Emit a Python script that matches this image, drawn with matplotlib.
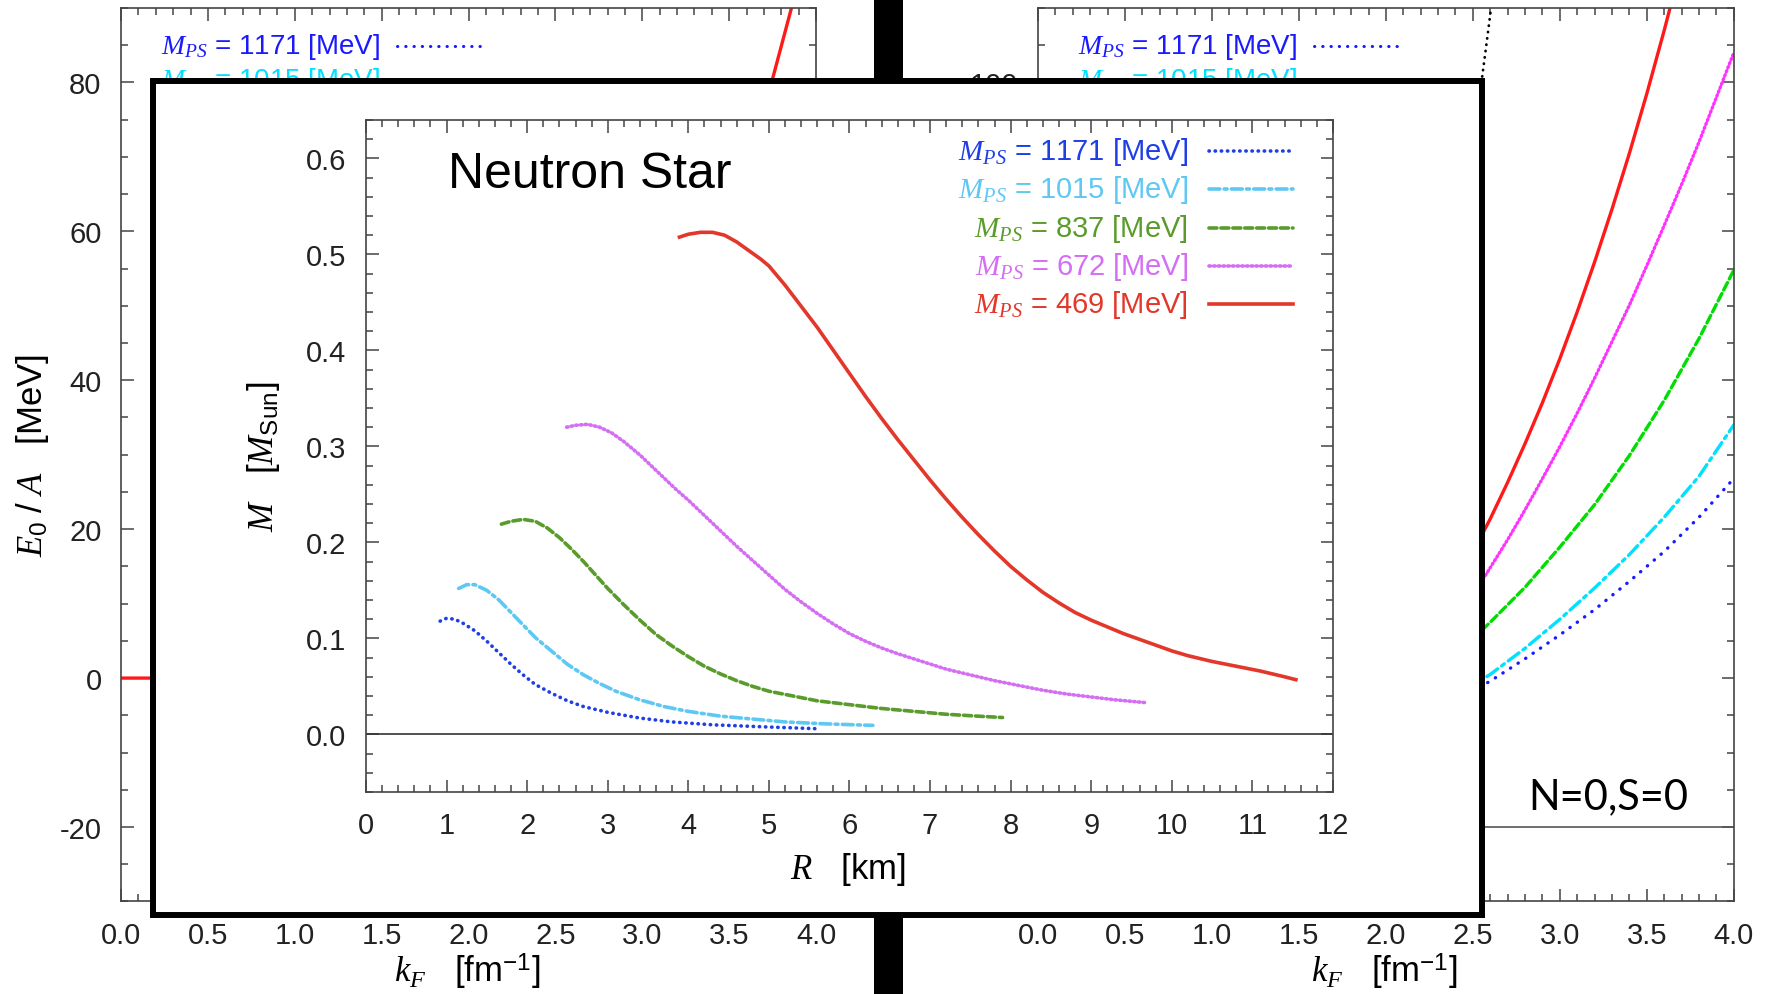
import matplotlib
matplotlib.use('Agg')
import matplotlib.pyplot as plt
from matplotlib.patches import Rectangle
from matplotlib.ticker import MultipleLocator, FormatStrFormatter, FuncFormatter

plt.rcParams['font.family'] = ['Liberation Sans', 'DejaVu Sans']
plt.rcParams['mathtext.fontset'] = 'custom'
plt.rcParams['mathtext.rm'] = 'Liberation Sans'
plt.rcParams['mathtext.it'] = 'Liberation Serif:italic'
plt.rcParams['mathtext.bf'] = 'Liberation Sans:bold'
plt.rcParams['axes.unicode_minus'] = False

# ---- values ----
ps_masses = ['1171', '1015', '837', '672', '469']

# inset: neutron star mass-radius curves (R [km], M [M_sun])
r_1171 = [0.92, 1.0, 1.1, 1.2, 1.35, 1.5, 1.65, 1.8, 1.95, 2.1, 2.3, 2.5, 2.7, 3.0, 3.4, 3.8, 4.3, 4.9, 5.57]
m_1171 = [0.118, 0.121, 0.120, 0.116, 0.108, 0.097, 0.085, 0.073, 0.062, 0.052, 0.043, 0.035, 0.029,
          0.023, 0.017, 0.013, 0.010, 0.008, 0.006]
r_1015 = [1.15, 1.25, 1.35, 1.5, 1.65, 1.8, 1.95, 2.1, 2.3, 2.5, 2.7, 2.9, 3.1, 3.4, 3.7, 4.0, 4.4, 4.8,
          5.2, 5.7, 6.29]
m_1015 = [0.152, 0.156, 0.156, 0.150, 0.140, 0.127, 0.114, 0.101, 0.087, 0.073, 0.062, 0.053, 0.045,
          0.036, 0.029, 0.024, 0.019, 0.016, 0.013, 0.011, 0.0094]
r_837 = [1.68, 1.8, 1.95, 2.1, 2.25, 2.4, 2.55, 2.7, 2.85, 3.0, 3.2, 3.4, 3.6, 3.8, 4.0, 4.2, 4.4, 4.6,
         4.8, 5.0, 5.3, 5.6, 6.0, 6.4, 6.8, 7.2, 7.6, 7.9]
m_837 = [0.219, 0.222, 0.224, 0.222, 0.215, 0.205, 0.193, 0.180, 0.166, 0.152, 0.135, 0.119, 0.104,
         0.092, 0.081, 0.071, 0.063, 0.056, 0.050, 0.045, 0.040, 0.035, 0.031, 0.027, 0.024, 0.021,
         0.019, 0.0176]
r_672 = [2.49, 2.6, 2.75, 2.9, 3.05, 3.2, 3.4, 3.6, 3.85, 4.0, 4.2, 4.4, 4.6, 4.8, 5.0, 5.2, 5.4, 5.6,
         5.8, 6.0, 6.2, 6.4, 6.6, 6.9, 7.2, 7.5, 7.8, 8.1, 8.4, 8.7, 9.0, 9.3, 9.69]
m_672 = [0.320, 0.322, 0.323, 0.320, 0.314, 0.305, 0.291, 0.275, 0.255, 0.244, 0.228, 0.212, 0.196,
         0.181, 0.166, 0.151, 0.138, 0.126, 0.115, 0.105, 0.097, 0.090, 0.084, 0.076, 0.068, 0.062,
         0.056, 0.051, 0.046, 0.042, 0.039, 0.036, 0.033]
r_469 = [3.89, 4.0, 4.15, 4.3, 4.45, 4.6, 4.75, 4.9, 5.0, 5.2, 5.4, 5.6, 5.8, 6.0, 6.2, 6.4, 6.6, 6.8,
         7.0, 7.2, 7.4, 7.6, 7.8, 8.0, 8.2, 8.4, 8.6, 8.8, 9.0, 9.2, 9.4, 9.6, 9.8, 10.0, 10.2, 10.5,
         10.8, 11.1, 11.4, 11.54]
m_469 = [0.518, 0.521, 0.523, 0.523, 0.520, 0.513, 0.504, 0.495, 0.488, 0.468, 0.446, 0.424, 0.400,
         0.376, 0.352, 0.329, 0.307, 0.286, 0.265, 0.245, 0.226, 0.208, 0.191, 0.175, 0.161, 0.148,
         0.137, 0.127, 0.119, 0.112, 0.105, 0.099, 0.093, 0.087, 0.082, 0.076, 0.071, 0.066, 0.060,
         0.057]

# left background panel: E0/A vs kF (only the red curve shows)
kf_left_469 = [0.0, 0.4, 1.0, 1.6, 2.2, 2.8, 3.3, 3.6, 3.75, 3.87]
e_left_469 = [0.0, 0.0, 0.5, 3.0, 10.0, 25.0, 45.0, 64.0, 80.5, 91.0]

# right background panel: E0/A vs kF
kf_r1171 = [2.45, 2.6, 2.8, 3.0, 3.2, 3.4, 3.6, 3.8, 4.0]
e_r1171 = [17.6, 19.6, 22.6, 25.8, 29.2, 33.0, 37.0, 41.6, 46.8]
kf_r1015 = [2.45, 2.6, 2.8, 3.0, 3.2, 3.4, 3.6, 3.8, 4.0]
e_r1015 = [18.3, 20.5, 24.0, 27.9, 32.1, 36.6, 41.6, 47.1, 54.0]
kf_r837 = [2.45, 2.6, 2.8, 3.0, 3.2, 3.4, 3.6, 3.8, 4.0]
e_r837 = [24.2, 27.5, 32.2, 37.6, 43.3, 49.9, 57.3, 65.6, 74.8]
kf_r672 = [2.45, 2.567, 2.7, 2.8, 2.9, 3.0, 3.1, 3.2, 3.3, 3.4, 3.5, 3.6, 3.7, 3.8, 3.9, 4.0]
e_r672 = [29.4, 33.6, 38.6, 42.6, 46.8, 51.1, 55.6, 60.3, 65.2, 70.1, 75.4, 80.8, 86.3, 92.0, 98.0, 104.0]
kf_r469 = [2.4, 2.5, 2.6, 2.7, 2.8, 2.9, 3.0, 3.1, 3.2, 3.3, 3.4, 3.5, 3.6, 3.7]
e_r469 = [33.0, 36.9, 41.4, 46.3, 51.5, 57.0, 62.9, 69.2, 75.9, 83.0, 90.5, 98.5, 107.0, 116.0]
kf_rblack = [2.45, 2.52, 2.553, 2.58, 2.61]
e_rblack = [70.0, 88.0, 100.7, 105.5, 111.0]

# ---- styles ----
inset_colors = ['#1f3fe6', '#5ec8f3', '#5a9c2c', '#d46ef2', '#e2372a']
inset_styles = [(0, (0.1, 1.6)), (0, (3, 1.2, 0.8, 1.2)), (0, (2.2, 1.1)), (0, (0.4, 0.9)), '-']
bg_colors = ['#1a1aff', '#00e0ff', '#00dd00', '#ff33ff', '#ff1a1a']
bg_styles = [(0, (0.1, 2.6)), (0, (4, 1.5, 1, 1.5)), (0, (2.5, 1.2)), (0, (0.4, 0.9)), '-']

fig = plt.figure(figsize=(17.69, 9.95), dpi=100)


def style_axes(ax, xlim, ylim, xmaj, xmin, ymaj, ymin, xfmt, yfmt):
    ax.set_xlim(*xlim)
    ax.set_ylim(*ylim)
    ax.xaxis.set_major_locator(MultipleLocator(xmaj))
    ax.xaxis.set_minor_locator(MultipleLocator(xmin))
    ax.yaxis.set_major_locator(MultipleLocator(ymaj))
    ax.yaxis.set_minor_locator(MultipleLocator(ymin))
    ax.xaxis.set_major_formatter(FormatStrFormatter(xfmt))
    ax.yaxis.set_major_formatter(FormatStrFormatter(yfmt))
    ax.tick_params(which='both', direction='in', top=True, right=True,
                   labelsize=21, pad=14, color='#444', labelcolor='#222', width=1.1)
    ax.tick_params(which='major', length=9)
    ax.tick_params(which='minor', length=5)
    for s in ax.spines.values():
        s.set_linewidth(1.2)
        s.set_color('#444')


def bg_legend(ax):
    # only the two top rows of these legends stick out above the inset
    for i, (m, c, ls) in enumerate(zip(ps_masses[:2], bg_colors[:2], bg_styles[:2])):
        y = 0.9575 - i * 0.038
        ax.text(0.373, y, f'$M_{{PS}}$ = {m} [MeV]', color=c, fontsize=20,
                ha='right', va='center', transform=ax.transAxes)
        ax.plot([0.397, 0.521], [y, y], color=c, ls=ls, lw=2.2,
                dash_capstyle='round', transform=ax.transAxes)


# left background panel
ax_l = fig.add_axes([0.0684, 0.093, 0.3929, 0.898])
style_axes(ax_l, (0, 4), (-30, 90), 0.5, 0.1, 20, 5, '%.1f', '%d')
ax_l.plot(kf_left_469, e_left_469, color=bg_colors[4], lw=2.4)
bg_legend(ax_l)

# right background panel
ax_r = fig.add_axes([0.5868, 0.093, 0.3933, 0.898])
style_axes(ax_r, (0, 4), (-10, 110), 0.5, 0.1, 20, 5, '%.1f', '%d')
# its lower y labels sit under the inset anyway
ax_r.yaxis.set_major_formatter(FuncFormatter(lambda v, p: '%d' % v if v > 90 else ''))
ax_r.axhline(0, color='#555', lw=1.2)
right_kf = [kf_r1171, kf_r1015, kf_r837, kf_r672, kf_r469]
right_e = [e_r1171, e_r1015, e_r837, e_r672, e_r469]
for x, y, c, ls in zip(right_kf, right_e, bg_colors, bg_styles):
    ax_r.plot(x, y, color=c, ls=ls, lw=2.4, dash_capstyle='round')
ax_r.plot(kf_rblack, e_rblack, color='black', ls=(0, (0.1, 2.2)), lw=2.0, dash_capstyle='round')
bg_legend(ax_r)
ax_r.text(0.819, 0.118, 'N=0,S=0', fontsize=30, family=['Lato', 'DejaVu Sans'],
          ha='center', va='center', transform=ax_r.transAxes)

fig.text(0.0181, 0.542, '$E_0\\ /\\ A$   [MeV]', rotation=90, fontsize=25, ha='center', va='center')
fig.text(0.2640, 0.0231, '$k_F$   [fm$^{-1}$]', fontsize=25, ha='center', va='center')
fig.text(0.7824, 0.0231, '$k_F$   [fm$^{-1}$]', fontsize=25, ha='center', va='center')

# black separator bar and the framed inset
fig.add_artist(Rectangle((0.494, 0), 0.0165, 1, facecolor='black', edgecolor='none',
                         zorder=1, transform=fig.transFigure))
fig.add_artist(Rectangle((0.0865, 0.0794), 0.7513, 0.8382, facecolor='white', edgecolor='black',
                         lw=4.3, zorder=2, transform=fig.transFigure))

ax_i = fig.add_axes([0.2069, 0.2030, 0.5466, 0.6754])
ax_i.set_zorder(3)
style_axes(ax_i, (0, 12), (-0.06, 0.64), 1, 0.2, 0.1, 0.02, '%d', '%.1f')
ax_i.axhline(0, color='#333', lw=1.2)
inset_r = [r_1171, r_1015, r_837, r_672, r_469]
inset_m = [m_1171, m_1015, m_837, m_672, m_469]
for x, y, c, ls in zip(inset_r, inset_m, inset_colors, inset_styles):
    ax_i.plot(x, y, color=c, ls=ls, lw=2.6, dash_capstyle='round')

for i, (m, c, ls) in enumerate(zip(ps_masses, inset_colors, inset_styles)):
    y = 0.954 - i * 0.057
    ax_i.text(0.850, y, f'$M_{{PS}}$ = {m} [MeV]', color=c, fontsize=21,
              ha='right', va='center', transform=ax_i.transAxes)
    ax_i.plot([0.872, 0.959], [y, y], color=c, ls=ls, lw=2.6,
              dash_capstyle='round', transform=ax_i.transAxes)

ax_i.text(0.085, 0.919, 'Neutron Star', fontsize=36, ha='left', va='center',
          transform=ax_i.transAxes)

fig.text(0.1487, 0.5407, '$M$   [$M_{\\mathrm{Sun}}$]', rotation=90, fontsize=25,
         ha='center', va='center', zorder=4)
fig.text(0.4795, 0.1266, '$R$   [km]', fontsize=25, ha='center', va='center', zorder=4)

fig.savefig('out.png', dpi=100)
